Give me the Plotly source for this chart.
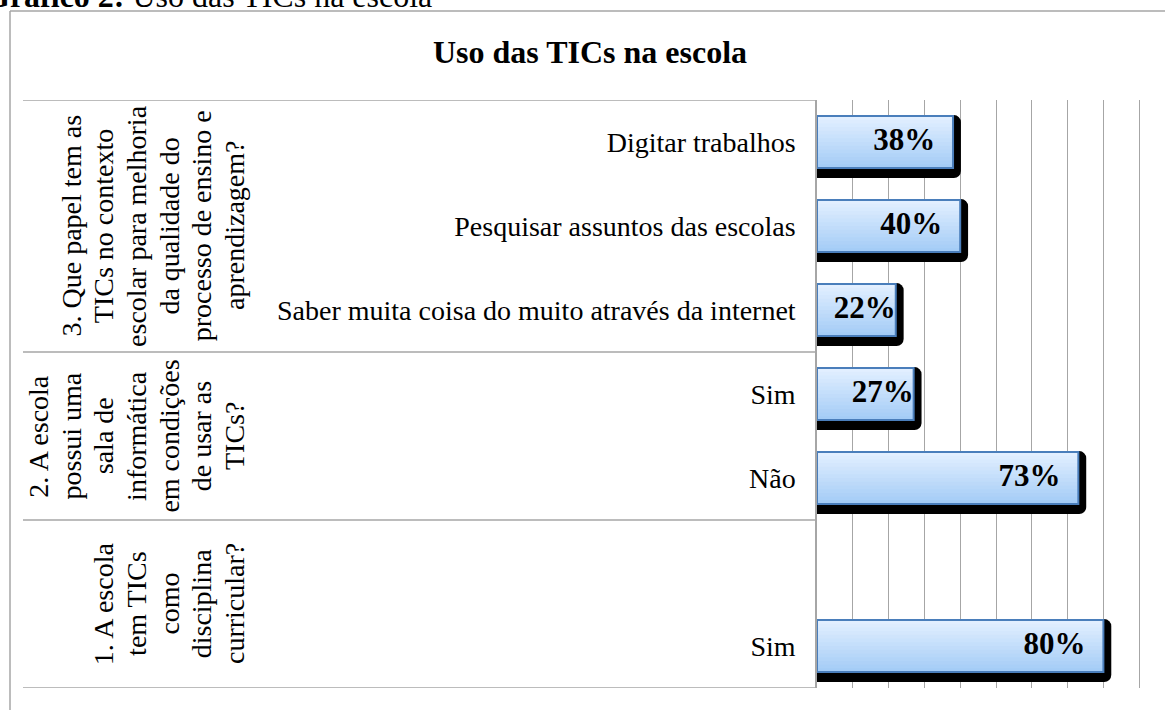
import plotly.graph_objects as go

# multi-level category chart: question (rotated) / answer / percentage
question_lines = [
    ["3. Que papel tem as", "TICs no contexto", "escolar para melhoria",
     "da qualidade do", "processo de ensino e", "aprendizagem?"],
    ["2. A escola", "possui uma", "sala de", "informática",
     "em condições", "de usar as", "TICs?"],
    ["1. A escola", "tem TICs", "como", "disciplina", "curricular?"],
]
answers = ["Digitar trabalhos", "Pesquisar assuntos das escolas",
           "Saber muita coisa do muito através da internet",
           "Sim", "Não", "", "Sim"]
percent = [38, 40, 22, 27, 73, None, 80]
question_of = [0, 0, 0, 1, 1, 2, 2]

FONT = "Liberation Serif"
GRID = "#a6a6a6"
W, H = 1165, 710
L, T, B = 817, 100, 22
PW, PH = W - L, H - T - B

slots = list(range(len(answers)))


def px_x(px):
    return (px - L) / PW


def px_y(py):
    return (T + PH - py) / PH


fig = go.Figure()

# shadow behind each bar
shadow_x = [v + 2.2 if v is not None else None for v in percent]
fig.add_trace(go.Bar(
    x=shadow_x, y=slots, orientation="h", width=0.75, offset=-0.32,
    marker=dict(color="black", line_width=0, cornerradius=7),
    hoverinfo="skip",
))

# vertical gradient made of stacked bands (light top, darker bottom)
bw = 0.62
top_c = (226, 239, 255)
bot_c = (164, 204, 246)
n = 14
for k in range(n):
    h = bw * (n - k) / n
    t = k / (n - 1)
    c = tuple(round(a + (b - a) * t) for a, b in zip(top_c, bot_c))
    fig.add_trace(go.Bar(
        x=percent, y=slots, orientation="h", width=h, offset=bw / 2 - h,
        marker=dict(color="rgb(%d,%d,%d)" % c, line_width=0),
        hoverinfo="skip",
    ))

fig.add_trace(go.Bar(
    x=percent, y=slots, orientation="h", width=bw, offset=-bw / 2,
    marker=dict(color="rgba(0,0,0,0)", line=dict(color="#4a7ebb", width=2)),
    hovertemplate="%{x}%<extra></extra>",
))

# value labels
lab_x = [None if v is None else (v - 5 if v >= 30 else v) for v in percent]
lab_t = ["" if v is None else "%d%%" % v for v in percent]
fig.add_trace(go.Scatter(
    x=lab_x, y=slots, mode="text", text=lab_t, textposition="middle left",
    textfont=dict(family=FONT, size=31, color="black", weight="bold"),
    cliponaxis=False, hoverinfo="skip",
))

shapes = []
# group separator lines in the category table
bounds = [-0.5]
for q in range(len(question_lines)):
    idx = [i for i, g in enumerate(question_of) if g == q]
    bounds.append(max(idx) + 0.5)
for yb in bounds:
    shapes.append(dict(type="line", xref="paper", yref="y",
                       x0=px_x(23), x1=0, y0=yb, y1=yb,
                       line=dict(color=GRID, width=1.5)))
# outer frame (cropped)
shapes.append(dict(type="line", xref="paper", yref="paper",
                   x0=px_x(10), x1=px_x(10), y0=px_y(11), y1=px_y(H + 5),
                   line=dict(color=GRID, width=1.5)))
shapes.append(dict(type="line", xref="paper", yref="paper",
                   x0=px_x(10), x1=px_x(W + 5), y0=px_y(11), y1=px_y(11),
                   line=dict(color=GRID, width=1.5)))

annotations = []
line_gap = 32.7
last_x = 234
for q, lines in enumerate(question_lines):
    idx = [i for i, g in enumerate(question_of) if g == q]
    yc = sum(idx) / len(idx)
    nl = len(lines)
    for i, txt in enumerate(lines):
        annotations.append(dict(
            text=txt, xref="paper", yref="y",
            x=px_x(last_x - (nl - 1 - i) * line_gap), y=yc,
            xanchor="center", yanchor="middle", textangle=-90,
            showarrow=False, font=dict(family=FONT, size=28, color="black"),
        ))

# caption of the document, cropped at the top edge like the source image
annotations.append(dict(
    text="<b>Gráfico 2:</b> Uso das TICs na escola",
    xref="paper", yref="paper", x=px_x(434), y=px_y(16),
    xanchor="right", yanchor="bottom", showarrow=False,
    font=dict(family=FONT, size=32, color="black"),
))

fig.update_layout(
    width=W, height=H,
    margin=dict(l=L, r=0, t=T, b=B),
    paper_bgcolor="white", plot_bgcolor="white",
    barmode="overlay", showlegend=False,
    title=dict(text="<b>Uso das TICs na escola</b>", x=590 / W, y=1 - 52 / H,
               xanchor="center", yanchor="middle", xref="container",
               yref="container",
               font=dict(family=FONT, size=32, color="black")),
    shapes=shapes, annotations=annotations,
    xaxis=dict(range=[0, PW / 3.58], dtick=10, tick0=0, showgrid=True,
               gridcolor=GRID, gridwidth=1.3, zeroline=False,
               showticklabels=False, showline=False, fixedrange=True),
    yaxis=dict(range=[len(answers) - 0.5, -0.5], tickvals=slots,
               ticktext=answers, ticks="", showgrid=False, zeroline=False,
               showline=True, linecolor=GRID, linewidth=1.5,
               ticklabelstandoff=14,
               tickfont=dict(family=FONT, size=28, color="black"),
               fixedrange=True),
)

fig.write_html("out.html", config={"displayModeBar": False},
               post_script="document.body.style.margin='0';")
